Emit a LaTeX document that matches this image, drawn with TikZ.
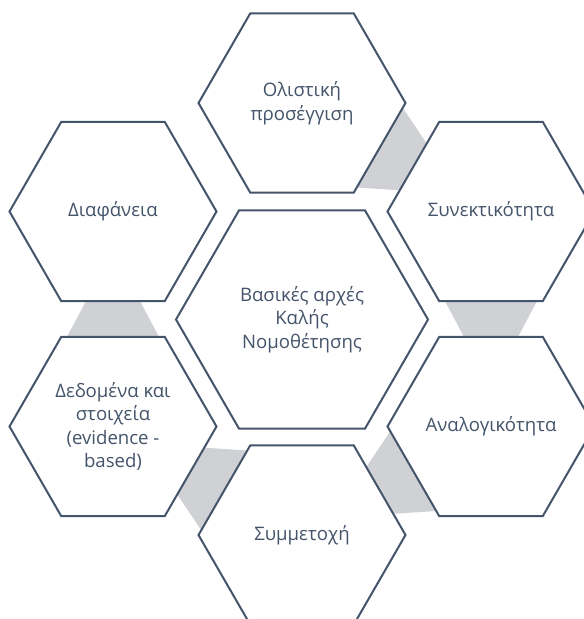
\documentclass[tikz,border=0pt]{standalone}
\usepackage{fontspec}
\setmainfont{Open Sans}
\usetikzlibrary{shapes.geometric,calc}
\definecolor{hexline}{RGB}{68,84,106}
\definecolor{linkfill}{RGB}{207,209,213}
\tikzset{
  hexbox/.style={regular polygon, regular polygon sides=6, draw=hexline, line width=2pt,
    fill=white, inner sep=0pt, minimum size=207pt},
  bighex/.style={hexbox, minimum size=252pt},
  hextext/.style={align=center, text=hexline, inner sep=0pt,
    font=\fontsize{18.6}{23.5}\selectfont},
  greylink/.style={fill=linkfill, draw=none}
}
\newcommand{\hexlink}[2]{%
  \path ($(#1)!89.6pt!(#2)$) coordinate (m1) ($(#2)!89.6pt!(#1)$) coordinate (m2);
  \fill[greylink] ($(m1)!46pt!90:(m2)$) -- ($(m1)!46pt!-90:(m2)$) -- ($(m2)!27pt!90:(m1)$) -- ($(m2)!27pt!-90:(m1)$) -- cycle;
}
\begin{document}
\begin{tikzpicture}[x=1pt,y=-1pt]
\clip (0,0) rectangle (584,619);
\fill[white] (0,0) rectangle (584,619);
\coordinate (cC) at (302,319.5);
\coordinate (cT) at (302,103);
\coordinate (cUR) at (491,211.5);
\coordinate (cLR) at (491,426.5);
\coordinate (cB) at (302,535);
\coordinate (cLL) at (113,426.5);
\coordinate (cUL) at (113,211.5);
\hexlink{cT}{cUR}
\hexlink{cUR}{cLR}
\hexlink{cLR}{cB}
\hexlink{cB}{cLL}
\hexlink{cLL}{cUL}
\node[hexbox] (T) at (cT) {};
\node[hexbox] (UR) at (cUR) {};
\node[hexbox] (LR) at (cLR) {};
\node[hexbox] (B) at (cB) {};
\node[hexbox] (LL) at (cLL) {};
\node[hexbox] (UL) at (cUL) {};
\node[bighex] (C) at (cC) {};
\node[hextext] (tT) at (T.center) {Ολιστική\\προσέγγιση};
\node[hextext] (tUR) at (UR.center) {Συνεκτικότητα};
\node[hextext] (tLR) at (LR.center) {Αναλογικότητα};
\node[hextext] (tB) at (B.center) {Συμμετοχή};
\node[hextext] (tLL) at (LL.center) {Δεδομένα και\\στοιχεία\\(evidence -\\based)};
\node[hextext] (tUL) at (UL.center) {Διαφάνεια};
\node[hextext] (tC) at (C.center) {Βασικές αρχές\\Καλής\\Νομοθέτησης};
\end{tikzpicture}
\end{document}
